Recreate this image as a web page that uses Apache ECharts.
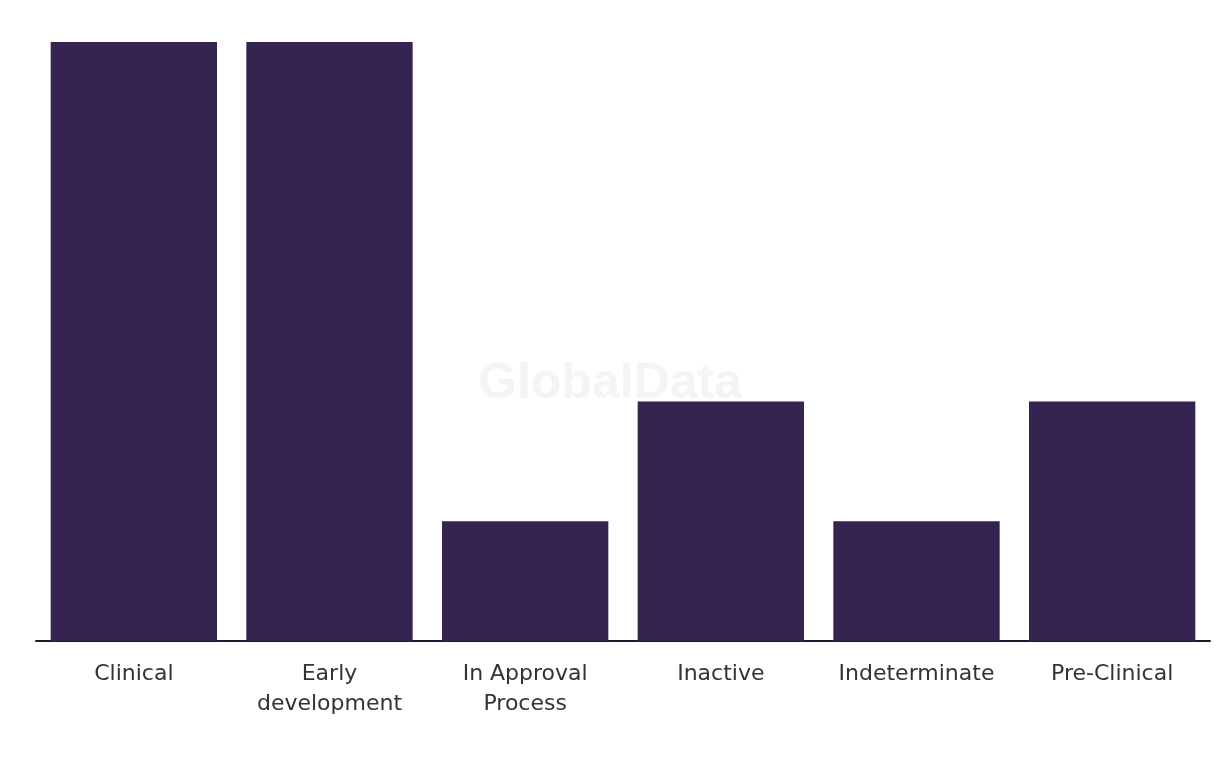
<!DOCTYPE html>
<html>
<head>
<meta charset="utf-8">
<script src="https://cdn.jsdelivr.net/npm/echarts@6/dist/echarts.min.js"></script>
<style>html,body{margin:0;padding:0;background:#fff}#c{width:1220px;height:766px}</style>
</head>
<body>
<div id="c"></div>
<script>
const categories = ['Clinical', 'Early\ndevelopment', 'In Approval\nProcess', 'Inactive', 'Indeterminate', 'Pre-Clinical'];
const values = [5, 5, 1, 2, 1, 2];

const chart = echarts.init(document.getElementById('c'), null, {renderer: 'canvas'});
chart.setOption({
  animation: false,
  backgroundColor: '#ffffff',
  graphic: [{
    type: 'text', left: 'center', top: 359, z: 0,
    style: {text: 'GlobalData', fontSize: 50, fontWeight: 'bold', fontFamily: 'Liberation Sans, Arial, sans-serif', fill: '#f4f4f4'}
  }],
  grid: {left: 36, right: 10, top: 42, bottom: 125, containLabel: false},
  xAxis: {
    type: 'category', data: categories,
    axisLine: {show: true, lineStyle: {color: '#1c1a2b', width: 2}},
    axisTick: {show: false},
    axisLabel: {color: '#333333', fontSize: 22, lineHeight: 30, margin: 18, fontFamily: 'DejaVu Sans, sans-serif', interval: 0}
  },
  yAxis: {type: 'value', min: 0, max: 5, show: false, splitLine: {show: false}},
  series: [{
    type: 'bar', data: values, barCategoryGap: '15%',
    itemStyle: {color: '#352351'}, z: 2
  }]
});
</script>
</body>
</html>
